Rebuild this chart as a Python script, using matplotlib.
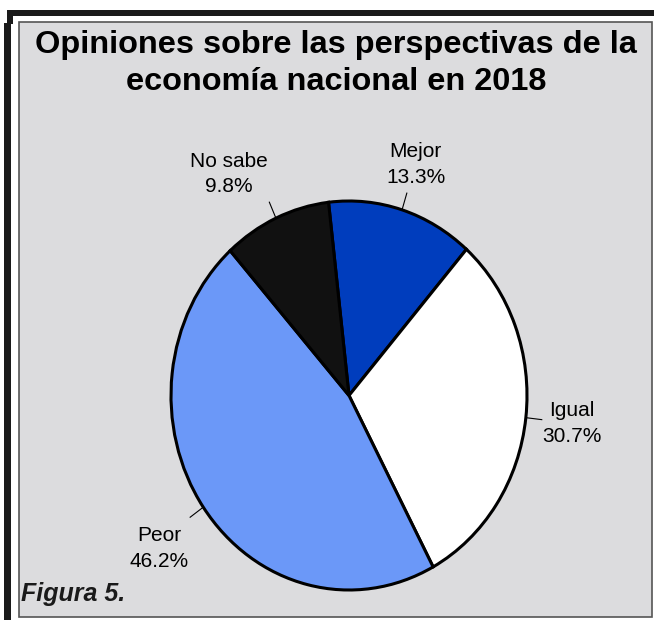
import matplotlib.pyplot as plt
import numpy as np
from matplotlib.patches import Rectangle

categorias = ['Mejor', 'Igual', 'Peor', 'No sabe']
porcentajes = [13.3, 30.7, 46.2, 9.8]
colores = ['#003DBD', '#FFFFFF', '#6B98F8', '#111111']
titulo = 'Opiniones sobre las perspectivas de la\neconomía nacional en 2018'
nota = 'Figura 5.'

W, H = 654, 620
plt.rcParams['font.family'] = ['Liberation Sans', 'DejaVu Sans']

fig = plt.figure(figsize=(W / 100, H / 100), dpi=100, facecolor='white')


def fx(x):
    return x / W


def fy(y):
    return 1 - y / H


# marco negro (arriba e izquierda) y panel gris
fig.patches.append(Rectangle((fx(7), fy(16)), fx(W - 7), 6 / H, transform=fig.transFigure,
                             facecolor='#1a1a1a', edgecolor='none', zorder=0))
fig.patches.append(Rectangle((fx(7), fy(24)), 6 / W, 14 / H, transform=fig.transFigure,
                             facecolor='#1a1a1a', edgecolor='none', zorder=0))
fig.patches.append(Rectangle((fx(4), 0), 7 / W, fy(23), transform=fig.transFigure,
                             facecolor='#1a1a1a', edgecolor='none', zorder=0))
fig.patches.append(Rectangle((fx(19), fy(617)), fx(652 - 19), (617 - 22) / H,
                             transform=fig.transFigure, facecolor='#DCDCDE',
                             edgecolor='#555555', lw=1.2, zorder=0))

# pie (ligeramente elíptico como en el original)
cx, cy, rx, ry = 349, 395.5, 178, 194.5
ax = fig.add_axes([fx(cx - rx), fy(cy + ry), 2 * rx / W, 2 * ry / H], zorder=3)
ax.set_facecolor('none')
start = 96.6
ax.pie(porcentajes, colors=colores, startangle=start, counterclock=False,
       wedgeprops=dict(edgecolor='black', linewidth=2.2))
ax.set_xlim(-1, 1)
ax.set_ylim(-1, 1)
ax.set_aspect('auto')
ax.axis('off')

nudge = [(0.0, -0.015), (0.0, 0.0), (0.0, -0.04), (-0.16, -0.01)]
rad_lab = [1.26, 1.26, 1.30, 1.26]
acum = np.cumsum([0] + porcentajes[:-1])
for i, (cat, p) in enumerate(zip(categorias, porcentajes)):
    mid = np.deg2rad(start - (acum[i] + p / 2) * 3.6)
    ux, uy = np.cos(mid), np.sin(mid)
    ax.plot([ux * 1.0, ux * 1.09], [uy * 1.0, uy * 1.09], color='black', lw=0.8,
            clip_on=False)
    ax.text(ux * rad_lab[i] + nudge[i][0], uy * rad_lab[i] + nudge[i][1],
            f'{cat}\n{p:.1f}%', ha='center', va='center', fontsize=15,
            linespacing=1.45, clip_on=False)

# las dos lineas del titulo por separado para fijar el interlineado
for linea, ypx in zip(titulo.split('\n'), [45, 82]):
    fig.text(fx(336), fy(ypx), linea, ha='center', va='center', fontsize=23.4,
             fontweight='bold')
fig.text(fx(21), fy(601), nota, ha='left', va='baseline', fontsize=18,
         fontweight='bold', fontstyle='italic', color='#1a1a1a')

fig.savefig('out.png', dpi=100, facecolor='white')
